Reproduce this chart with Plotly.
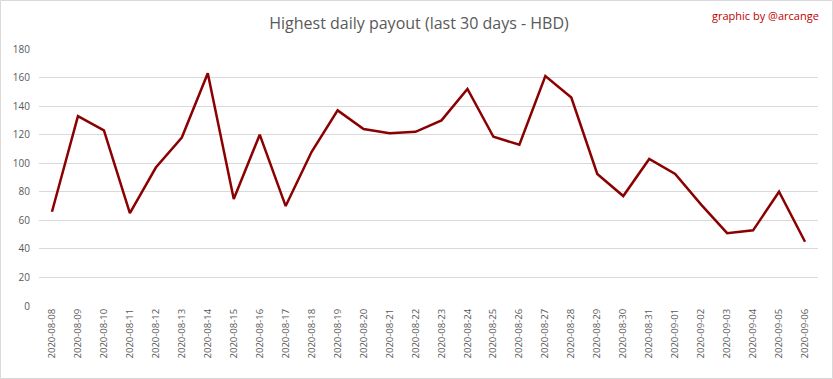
import plotly.graph_objects as go

dates = ["2020-08-08", "2020-08-09", "2020-08-10", "2020-08-11", "2020-08-12",
         "2020-08-13", "2020-08-14", "2020-08-15", "2020-08-16", "2020-08-17",
         "2020-08-18", "2020-08-19", "2020-08-20", "2020-08-21", "2020-08-22",
         "2020-08-23", "2020-08-24", "2020-08-25", "2020-08-26", "2020-08-27",
         "2020-08-28", "2020-08-29", "2020-08-30", "2020-08-31", "2020-09-01",
         "2020-09-02", "2020-09-03", "2020-09-04", "2020-09-05", "2020-09-06"]
payout = [66, 133, 123, 65, 97, 118, 163, 75, 120, 70,
          108, 137, 124, 121, 122, 130, 152, 118.5, 113, 161,
          146, 92.5, 77, 103, 92.5, 71, 51, 53, 80, 45]
y_ticks = [0, 20, 40, 60, 80, 100, 120, 140, 160, 180]

W, H = 833, 379
ml, mr, mt, mb = 39, 15, 49, 73

fig = go.Figure()
fig.add_trace(go.Scatter(
    x=dates, y=payout, mode="lines",
    line=dict(color="#8B0000", width=2.5),
    hoverinfo="x+y", showlegend=False,
))

fig.update_layout(
    width=W, height=H,
    margin=dict(l=ml, r=mr, t=mt, b=mb),
    paper_bgcolor="white", plot_bgcolor="white",
    font=dict(family="Open Sans", color="#595959", size=10),
    title=dict(text="Highest daily payout (last 30 days - HBD)",
               x=0.503, xanchor="center", y=1 - 23 / H, yanchor="middle",
               font=dict(size=16, color="#595959", family="Open Sans")),
    xaxis=dict(type="category", range=[-0.5, len(dates) - 0.5],
               tickangle=-90, showgrid=False, zeroline=False,
               showline=False, ticks="", tickfont=dict(size=9.5, color="#595959"),
               automargin=False),
    yaxis=dict(range=[0, 180], tickvals=y_ticks, showgrid=True,
               gridcolor="#d9d9d9", gridwidth=1, zeroline=False,
               showline=False, ticks="", ticklabelstandoff=8,
               tickfont=dict(size=10, color="#595959"), automargin=False),
    annotations=[dict(text="graphic by @arcange", xref="paper", yref="paper",
                      x=(821 - ml) / (W - ml - mr), y=1 + (mt - 15) / (H - mt - mb),
                      xanchor="right", yanchor="middle", showarrow=False,
                      font=dict(size=11, color="#c00000", family="Open Sans"))],
    shapes=[dict(type="rect", xref="paper", yref="paper",
                 x0=(0.5 - ml) / (W - ml - mr), x1=(W - 0.5 - ml) / (W - ml - mr),
                 y0=-(mb - 0.5) / (H - mt - mb), y1=1 + (mt - 0.5) / (H - mt - mb),
                 line=dict(color="#d9d9d9", width=1), layer="below")],
)

fig.write_html("out.html")
